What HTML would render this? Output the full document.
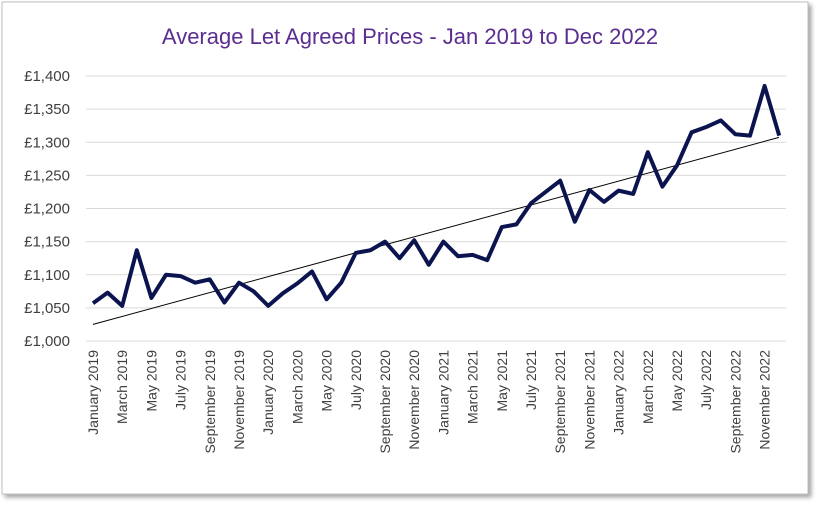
<!DOCTYPE html>
<html><head><meta charset="utf-8"><style>
body{margin:0;background:#fff;}
svg{display:block;font-family:"Liberation Sans",sans-serif;}
</style></head><body>
<svg width="820" height="506" xmlns="http://www.w3.org/2000/svg">
<defs><filter id="sh" x="-5%" y="-5%" width="110%" height="110%"><feDropShadow dx="3" dy="3" stdDeviation="2" flood-color="#000" flood-opacity="0.35"/></filter></defs>
<rect x="2" y="2" width="806" height="492" fill="#fff" stroke="#bfbfbf" filter="url(#sh)"/>
<text x="410" y="44" text-anchor="middle" font-size="22" fill="#5b2d90">Average Let Agreed Prices - Jan 2019 to Dec 2022</text>
<g id="grid" stroke="#d9d9d9" stroke-width="1"></g>
<g id="yl" font-size="15" fill="#404040" text-anchor="end"></g>
<g id="xl" font-size="14" fill="#404040"></g>
<line x1="93" y1="324.4" x2="779" y2="137.4" stroke="#000" stroke-width="1"/>
<polyline id="ln" fill="none" stroke="#0c1450" stroke-width="4" stroke-linejoin="round"/>
</svg>
<script>
const ns="http://www.w3.org/2000/svg";
const Y=v=>341-(v-1000)*0.6625;
const g=document.getElementById('grid'),yl=document.getElementById('yl'),xl=document.getElementById('xl');
for(let v=1000;v<=1400;v+=50){const y=Y(v);
 const l=document.createElementNS(ns,'line');l.setAttribute('x1',86);l.setAttribute('x2',786);l.setAttribute('y1',y);l.setAttribute('y2',y);g.appendChild(l);
 const t=document.createElementNS(ns,'text');t.setAttribute('x',70);t.setAttribute('y',y+5);t.textContent='£'+(v===1000?'1,000':'1,'+String(v-1000).padStart(3,'0'));yl.appendChild(t);}
const d=[1057,1073,1053,1137,1065,1100,1098,1088,1093,1058,1088,1075,1053,1072,1087,1105,1063,1088,1133,1137,1150,1125,1152,1115,1150,1128,1130,1122,1172,1176,1208,1225,1242,1180,1228,1210,1227,1222,1285,1233,1265,1315,1323,1333,1312,1310,1385,1310];
const X=i=>93+i*14.6;
document.getElementById('ln').setAttribute('points',d.map((v,i)=>X(i)+','+Y(v)).join(' '));
const m=['January','March','May','July','September','November'];
for(let i=0;i<48;i+=2){const x=X(i)+5,y=350;
 const t=document.createElementNS(ns,'text');t.setAttribute('transform',`translate(${x},${y}) rotate(-90)`);t.setAttribute('text-anchor','end');
 t.textContent=m[(i%12)/2]+' '+(2019+Math.floor(i/12));xl.appendChild(t);}
</script>
</body></html>
